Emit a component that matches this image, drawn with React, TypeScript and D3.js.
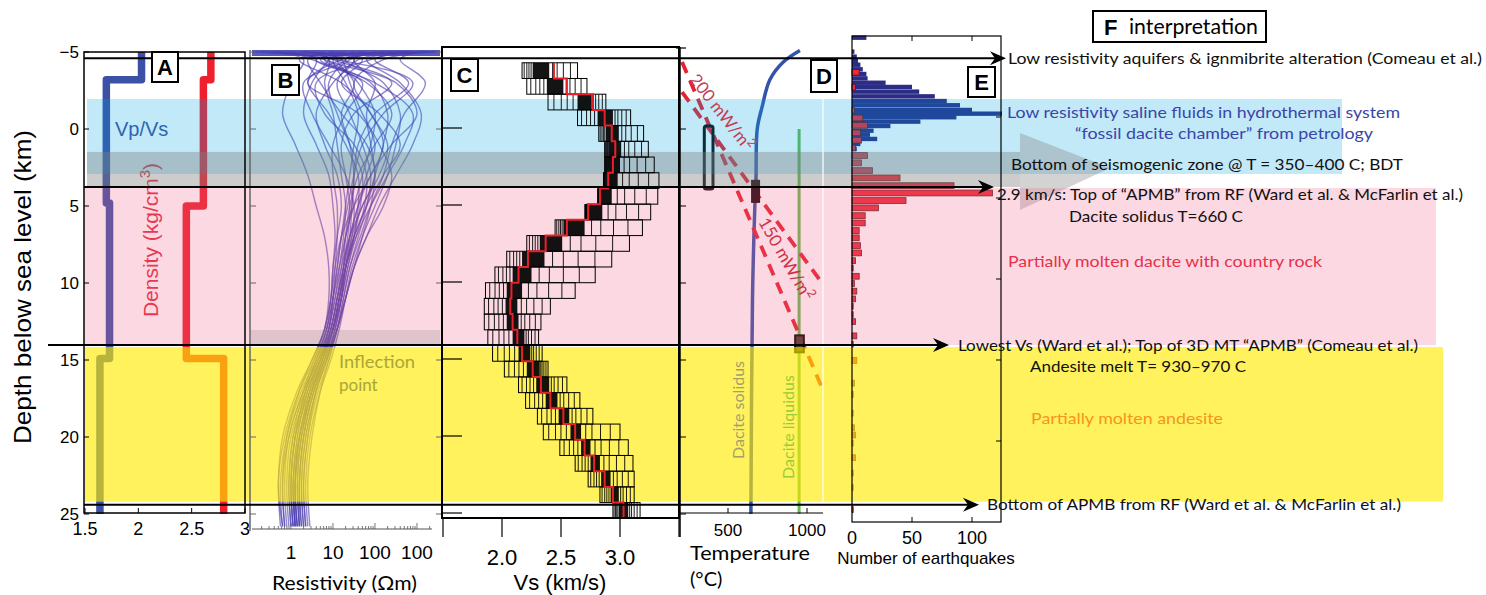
import React from "react";
import * as d3 from "d3";

// ---------------- shared depth axis (km below sea level) ----------------
const depthTicks = [-5, 0, 5, 10, 15, 20, 25];
const depthTickLabels = ["\u22125", "0", "5", "10", "15", "20", "25"];

// ---------------- Panel A: Vp/Vs and density step models ----------------
const vpvsLayerTops = [-5, -3.2, 4.8, 14.9];
const vpvsValues = [2.03, 1.7, 1.73, 1.64];
const densityLayerTops = [-5, -3.2, 5.0, 14.9];
const densityValues = [2.68, 2.61, 2.45, 2.8];
const modelBottom = 25;
const panelATicks = [1.5, 2, 2.5, 3];
const panelATickLabels = ["1.5", "2", "2.5", "3"];

// ---------------- Panel B: resistivity ensemble (log10 Ohm-m) ----------------
const resDepths = [-5, -4.5, -3, -1, 1, 3, 5, 7, 9, 11, 13, 15, 17, 20, 23, 25.8];
const resCurvesLog10 = [
  [1.2, 1.0, 1.3, 1.6, 1.5, 1.4, 1.3, 1.2, 1.1, 1.0, 0.85, 0.6, 0.35, 0.1, 0.0, 0.05],
  [3.4, 1.8, 2.6, 3.1, 2.9, 2.5, 2.1, 1.8, 1.5, 1.3, 1.1, 0.85, 0.6, 0.4, 0.3, 0.35],
  [-0.9, 0.3, 0.0, -0.2, 0.1, 0.4, 0.6, 0.8, 0.9, 0.9, 0.8, 0.5, 0.2, -0.1, -0.2, -0.15],
  [2.5, 0.8, 1.9, 2.3, 2.2, 2.0, 1.8, 1.5, 1.3, 1.15, 1.0, 0.8, 0.55, 0.3, 0.2, 0.25],
  [0.2, 1.5, 1.0, 0.6, 0.8, 1.1, 1.2, 1.1, 1.0, 0.95, 0.8, 0.55, 0.3, 0.05, -0.05, 0.0],
  [3.0, 2.6, 3.2, 2.7, 2.4, 2.2, 1.9, 1.65, 1.4, 1.25, 1.1, 0.9, 0.7, 0.5, 0.4, 0.45],
  [0.8, 0.4, 0.7, 1.2, 1.8, 2.0, 1.7, 1.4, 1.2, 1.05, 0.9, 0.7, 0.45, 0.2, 0.1, 0.15],
  [1.8, 1.1, 1.6, 2.0, 1.9, 1.7, 1.5, 1.3, 1.2, 1.1, 0.95, 0.75, 0.5, 0.25, 0.15, 0.2],
  [-0.5, 0.6, 0.4, 0.9, 1.3, 1.6, 1.6, 1.5, 1.35, 1.2, 1.0, 0.7, 0.4, 0.15, 0.05, 0.1],
  [2.2, 1.3, 2.2, 2.6, 2.5, 2.3, 2.0, 1.7, 1.45, 1.3, 1.15, 0.95, 0.7, 0.45, 0.35, 0.4],
  [1.0, 0.9, 0.5, 0.3, 0.6, 0.9, 1.0, 1.05, 1.0, 0.95, 0.85, 0.6, 0.35, 0.1, 0.0, 0.05],
  [3.5, 2.0, 2.8, 2.0, 1.6, 1.5, 1.45, 1.4, 1.3, 1.2, 1.05, 0.85, 0.6, 0.35, 0.25, 0.3],
  [0.5, 1.2, 1.4, 1.7, 2.1, 2.4, 2.2, 1.8, 1.5, 1.3, 1.1, 0.85, 0.55, 0.3, 0.2, 0.25],
  [2.8, 1.6, 1.1, 1.4, 1.7, 1.9, 1.8, 1.6, 1.4, 1.25, 1.1, 0.9, 0.65, 0.4, 0.3, 0.35],
  [-0.2, 0.9, 0.8, 1.0, 1.1, 1.2, 1.3, 1.25, 1.15, 1.05, 0.9, 0.65, 0.4, 0.15, 0.05, 0.1],
  [1.5, 0.7, 2.0, 2.9, 2.7, 2.3, 1.9, 1.55, 1.3, 1.15, 1.0, 0.8, 0.55, 0.3, 0.2, 0.2],
  [0.0, 0.5, 1.8, 2.4, 2.0, 1.6, 1.4, 1.3, 1.25, 1.15, 1.0, 0.75, 0.5, 0.25, 0.1, 0.15],
  [2.0, 1.4, 0.9, 1.1, 1.4, 1.7, 1.65, 1.5, 1.3, 1.2, 1.05, 0.8, 0.5, 0.2, 0.1, 0.15],
  [3.2, 2.2, 1.5, 1.9, 2.3, 2.1, 1.7, 1.45, 1.3, 1.2, 1.05, 0.85, 0.6, 0.35, 0.25, 0.3],
  [0.6, 1.0, 2.4, 1.5, 1.2, 1.3, 1.4, 1.35, 1.25, 1.1, 0.95, 0.7, 0.45, 0.2, 0.1, 0.1],
  [1.3, 0.2, 1.2, 1.9, 2.2, 1.9, 1.5, 1.2, 1.05, 0.95, 0.8, 0.5, 0.15, -0.2, -0.3, -0.25],
  [2.6, 1.9, 0.6, 0.8, 1.5, 1.8, 1.75, 1.55, 1.35, 1.2, 1.0, 0.7, 0.35, 0.0, -0.1, -0.05],
  [-0.7, 1.1, 2.9, 2.2, 1.7, 1.5, 1.35, 1.2, 1.1, 1.0, 0.9, 0.65, 0.3, -0.05, -0.15, -0.1],
  [0.9, 1.7, 1.2, 2.1, 2.6, 2.2, 1.8, 1.5, 1.3, 1.15, 1.0, 0.75, 0.45, 0.1, 0.0, 0.05],
  [3.3, 0.6, 1.7, 1.3, 1.0, 1.0, 1.1, 1.1, 1.05, 1.0, 0.9, 0.6, 0.25, -0.1, -0.25, -0.2],
  [1.7, 0.9, 2.5, 3.0, 2.4, 1.9, 1.6, 1.4, 1.25, 1.1, 0.95, 0.7, 0.4, 0.05, -0.05, 0.0],
  [0.3, 1.3, 0.3, 0.5, 0.9, 1.3, 1.5, 1.45, 1.3, 1.15, 1.0, 0.75, 0.5, 0.25, 0.15, 0.2],
  [2.9, 1.5, 2.0, 1.8, 1.9, 2.0, 1.9, 1.7, 1.5, 1.3, 1.1, 0.8, 0.5, 0.2, 0.05, 0.1],
  [-0.4, 0.8, 1.5, 1.2, 1.4, 1.5, 1.45, 1.3, 1.15, 1.0, 0.85, 0.55, 0.2, -0.15, -0.3, -0.2],
  [2.4, 1.2, 0.4, 1.6, 2.0, 1.8, 1.6, 1.4, 1.25, 1.1, 0.95, 0.65, 0.3, -0.05, -0.2, -0.15],
];
const resTicks = [1, 10, 100, 1000];
const resTickLabels = ["1", "10", "100", "100"];

// ---------------- Panel C: Vs ensemble, 1 km layers ----------------
const vsLayerBounds = [
  -4.3, -3.28, -2.26, -1.24, -0.22, 0.8, 1.82, 2.84, 3.86, 4.88, 5.9, 6.92, 7.94, 8.96, 9.98,
  11.0, 12.02, 13.04, 14.06, 15.08, 16.1, 17.12, 18.14, 19.16, 20.18, 21.2, 22.22, 23.24, 24.26, 25.28,
];
const vsMin = [2.17, 2.21, 2.39, 2.64, 2.82, 2.87, 2.87, 2.86, 2.82, 2.72, 2.45, 2.21, 2.04, 1.94, 1.86,
  1.85, 1.85, 1.88, 1.92, 2.02, 2.14, 2.2, 2.3, 2.35, 2.49, 2.62, 2.73, 2.83, 2.94];
const vsCoreLo = [2.26, 2.38, 2.64, 2.81, 2.88, 2.9, 2.89, 2.87, 2.81, 2.7, 2.52, 2.32, 2.17, 2.09, 2.04,
  2.03, 2.04, 2.09, 2.14, 2.21, 2.29, 2.37, 2.48, 2.58, 2.67, 2.75, 2.84, 2.92, 2.99];
const vsMedian = [2.44, 2.55, 2.77, 2.87, 2.93, 2.96, 2.94, 2.9, 2.83, 2.73, 2.55, 2.37, 2.22, 2.14, 2.08,
  2.07, 2.09, 2.13, 2.17, 2.26, 2.33, 2.41, 2.52, 2.62, 2.7, 2.78, 2.87, 2.94, 3.03];
const vsCoreHi = [2.4, 2.52, 2.76, 2.94, 2.99, 3.01, 3.0, 2.98, 2.93, 2.85, 2.7, 2.51, 2.36, 2.25, 2.17,
  2.13, 2.14, 2.19, 2.24, 2.32, 2.4, 2.47, 2.57, 2.67, 2.75, 2.83, 2.92, 2.99, 3.07];
const vsMax = [2.64, 2.72, 2.88, 3.09, 3.2, 3.24, 3.29, 3.33, 3.32, 3.26, 3.19, 3.08, 2.93, 2.79, 2.62,
  2.41, 2.33, 2.31, 2.34, 2.39, 2.55, 2.66, 2.77, 3.0, 3.07, 3.11, 3.12, 3.12, 3.17];
const vsTicks = [2.0, 2.5, 3.0];
const vsTickLabels = ["2.0", "2.5", "3.0"];

// ---------------- Panel D: temperature ----------------
const geothermDepth = [-5.1, -4.35, -3.2, -1.4, 0, 3.3, 5, 11, 25];
const geothermT = [955, 850, 765, 715, 685, 677, 670, 655, 645];
const liquidusT = [950, 950];
const liquidusDepth = [0, 25];
const hf200T = [209, 1095];
const hf200Depth = [-2.4, 10.0];
const hf150T = [209, 1095];
const hf150Depth = [-4.35, 16.8];
const bdtBoxT = [350, 405];
const bdtBoxDepth = [-0.2, 3.9];
const solidusBoxT = [646, 703];
const solidusBoxDepth = [3.3, 4.8];
const andesiteBoxT = [925, 980];
const andesiteBoxDepth = [13.4, 14.5];
const tempTicks = [500, 1000];
const tempTickLabels = ["500", "1000"];

// ---------------- Panel E: earthquake histograms ----------------
const blueBinTops = [-5.03, -4.17, -3.86, -3.59, -3.36, -3.08, -2.79, -2.52, -2.25, -1.99, -1.7, -1.41,
  -1.12, -0.86, -0.57, -0.34, -0.12, 0.15, 0.42, 0.71, 0.96, 1.22, 1.53, 1.84];
const blueCounts = [12, 2, 4, 5, 7, 9, 12, 13, 28, 50, 56, 69, 79, 90, 100, 125, 87, 57, 32, 18, 15, 21, 7, 4];
const blueBinKm = 0.27;
const redBinTops = [-2.94, -2.02, -0.6, -0.12, 0.33, 0.8, 1.25, 1.73, 2.2, 2.65, 3.13, 3.58, 4.06, 4.51,
  4.98, 5.43, 5.91, 6.36, 6.83, 7.28, 7.76, 8.21, 8.69, 9.14, 9.65, 10.1, 10.57, 11.05, 11.5, 12.02,
  12.45, 13.33, 13.85, 14.85, 16.25, 16.95, 18.1, 19.0, 19.45, 19.95, 20.85, 21.8, 22.7, 24.05];
const redCounts = [6, 3, 2, 9, 13, 7, 8, 3, 13, 8, 17, 40, 85, 117, 45, 22, 11, 11, 6, 6, 7, 8, 3, 1, 6, 2,
  4, 3, 1, 1, 3, 4, 1, 4, 2, 1, 1, 2, 3, 1, 3, 1, 1, 1];
const redBinKm = 0.36;
const eqTicks = [0, 50, 100];

// ---------------- Interpretation zones (depth km) ----------------
const blueBandDepth = [-1.95, 2.92];
const grayBandDepth = [1.49, 3.77];
const pinkBandDepth = [3.83, 14.03];
const yellowBandDepth = [14.16, 24.2];
const inflectionShadeDepth = [13.05, 14.03];
const markerLineDepths = [-4.6, 3.77, 14.03, 24.4];

const SANS = "'Liberation Sans', Arial, sans-serif";
const HUM = "Lato, 'Open Sans', sans-serif";

function stepPoints(tops: number[], vals: number[], bottom: number): [number, number][] {
  const pts: [number, number][] = [];
  tops.forEach((t, i) => {
    const b = i < tops.length - 1 ? tops[i + 1] : bottom;
    pts.push([vals[i], t]);
    pts.push([vals[i], b]);
  });
  return pts;
}

function Arrow({ x, y }: { x: number; y: number }) {
  return <polygon points={`${x},${y} ${x - 16},${y - 7} ${x - 11},${y} ${x - 16},${y + 7}`} fill="#000" />;
}

function LabelBox({ x, y, w, h, t }: { x: number; y: number; w: number; h: number; t: string }) {
  return (
    <g>
      <rect x={x} y={y} width={w} height={h} fill="#fff" stroke="#000" strokeWidth={2} />
      <text x={x + w / 2} y={y + h / 2 + 8} textAnchor="middle" fontFamily={SANS} fontWeight="bold" fontSize={22}>
        {t}
      </text>
    </g>
  );
}

function Ann({ x, y, len, t, c = "#111" }: { x: number; y: number; len: number; t: string; c?: string }) {
  return (
    <text x={x} y={y} fontFamily={HUM} fontSize={16} fill={c} textLength={len} lengthAdjust="spacingAndGlyphs">
      {t}
    </text>
  );
}

export default function App() {
  const yM = d3.scaleLinear().domain([-5, 25]).range([52, 514]);
  const xA = d3.scaleLinear().domain([1.5, 3]).range([85, 245]);
  const xB = d3.scaleLog().domain([0.12, 2600]).range([252.3, 434.4]);
  const xC = d3.scaleLinear().domain([2.0, 3.0]).range([502, 620]);
  const xD = d3.scaleLinear().domain([500, 1000]).range([728, 807]);
  const xE = d3.scaleLinear().domain([0, 100]).range([852, 972]);
  const yE = d3.scaleLinear().domain([-5, 25]).range([36, 522]);

  const lineA = d3.line<[number, number]>().x((d) => xA(d[0])).y((d) => yM(d[1]));
  const lineB = d3
    .line<[number, number]>()
    .x((d) => xB(Math.pow(10, d[0])))
    .y((d) => yM(d[1]))
    .curve(d3.curveCatmullRom.alpha(0.5));
  const lineC = d3.line<[number, number]>().x((d) => xC(d[0])).y((d) => yM(d[1]));
  const lineD = d3
    .line<[number, number]>()
    .x((d) => xD(d[0]))
    .y((d) => yM(d[1]))
    .curve(d3.curveCatmullRom.alpha(0.5));
  const lineDs = d3.line<[number, number]>().x((d) => xD(d[0])).y((d) => yM(d[1]));

  const vpvsPath = lineA(stepPoints(vpvsLayerTops, vpvsValues, modelBottom)) || "";
  const densPath = lineA(stepPoints(densityLayerTops, densityValues, modelBottom)) || "";

  const medianPts: [number, number][] = [];
  vsMedian.forEach((v, i) => {
    medianPts.push([v, vsLayerBounds[i]]);
    medianPts.push([v, vsLayerBounds[i + 1]]);
  });

  const bandRect = (d: number[], x0: number, x1: number, fill: string, op: number, key: string) => (
    <rect key={key} x={x0} y={yM(d[0])} width={x1 - x0} height={yM(d[1]) - yM(d[0])} fill={fill} fillOpacity={op} />
  );

  const bMinor = xB.ticks();

  return (
    <svg width={1486} height={595} style={{ position: "absolute", left: 0, top: 0, background: "#fff" }}>
      <rect x={0} y={0} width={1486} height={595} fill="#fff" />

      {/* ================= UNDER-LAYER DATA ================= */}
      {/* Panel A */}
      <path d={vpvsPath} fill="none" stroke="#3c50a5" strokeWidth={7.5} strokeLinejoin="round" />
      <path d={densPath} fill="none" stroke="#ed202d" strokeWidth={7.5} strokeLinejoin="round" />
      <text x={115} y={136} fontFamily={SANS} fontSize={20} fill="#3c50a5">Vp/Vs</text>
      <text
        transform={`translate(158,240) rotate(-90)`}
        textAnchor="middle"
        fontFamily={SANS}
        fontSize={21}
        fill="#e8283c"
      >
        Density (kg/cm<tspan dy={-8} fontSize={15}>3</tspan><tspan dy={8}>)</tspan>
      </text>

      {/* Panel B curves */}
      <rect x={252} y={50} width={188} height={6} fill="#3a3cb0" fillOpacity={0.85} />
      {resCurvesLog10.map((c, i) => (
        <path
          key={"res" + i}
          d={lineB(c.map((L, j) => [L, resDepths[j]] as [number, number])) || ""}
          fill="none"
          stroke="#4a3cae"
          strokeOpacity={0.62}
          strokeWidth={1.4}
        />
      ))}

      {/* Panel D lines */}
      <path
        d={lineD(geothermT.map((t, i) => [t, geothermDepth[i]] as [number, number])) || ""}
        fill="none"
        stroke="#3553aa"
        strokeWidth={3.5}
      />
      <path
        d={lineDs(liquidusT.map((t, i) => [t, liquidusDepth[i]] as [number, number])) || ""}
        fill="none"
        stroke="#64bb4c"
        strokeWidth={3}
      />
      <path
        d={lineDs(hf200T.map((t, i) => [t, hf200Depth[i]] as [number, number])) || ""}
        fill="none"
        stroke="#e8202e"
        strokeWidth={3.8}
        strokeDasharray="12 8"
      />
      <path
        d={lineDs(hf150T.map((t, i) => [t, hf150Depth[i]] as [number, number])) || ""}
        fill="none"
        stroke="#e8202e"
        strokeWidth={3.8}
        strokeDasharray="12 8"
      />
      <rect
        x={xD(bdtBoxT[0])}
        y={yM(bdtBoxDepth[0])}
        width={xD(bdtBoxT[1]) - xD(bdtBoxT[0])}
        height={yM(bdtBoxDepth[1]) - yM(bdtBoxDepth[0])}
        fill="none"
        stroke="#0a0a0a"
        strokeWidth={3}
        rx={2}
      />
      <rect
        x={xD(solidusBoxT[0])}
        y={yM(solidusBoxDepth[0])}
        width={xD(solidusBoxT[1]) - xD(solidusBoxT[0])}
        height={yM(solidusBoxDepth[1]) - yM(solidusBoxDepth[0])}
        fill="#1a0508"
      />
      <rect
        x={xD(andesiteBoxT[0])}
        y={yM(andesiteBoxDepth[0])}
        width={xD(andesiteBoxT[1]) - xD(andesiteBoxT[0])}
        height={yM(andesiteBoxDepth[1]) - yM(andesiteBoxDepth[0])}
        fill="#4a3a20"
        stroke="#000"
        strokeWidth={2}
      />

      {/* Panel E bars */}
      {blueBinTops.map((d, i) => (
        <rect
          key={"bb" + i}
          x={xE(0)}
          y={yE(d)}
          width={xE(blueCounts[i]) - xE(0)}
          height={yE(d + blueBinKm) - yE(d)}
          fill="#2a2c86"
        />
      ))}
      {redBinTops.map((d, i) => (
        <rect
          key={"rb" + i}
          x={xE(0)}
          y={yE(d)}
          width={xE(redCounts[i]) - xE(0)}
          height={yE(d + redBinKm) - yE(d)}
          fill="#ee2a3a"
          stroke="#5a1818"
          strokeWidth={0.8}
        />
      ))}

      {/* ================= INTERPRETATION BANDS ================= */}
      {bandRect(blueBandDepth, 87, 1342, "rgb(0,163,226)", 0.24, "blueband")}
      {bandRect(grayBandDepth, 87, 1020, "rgb(128,128,128)", 0.4, "grayband")}
      <polygon points="1020,133 1020,210 1110,168" fill="rgb(128,128,128)" fillOpacity={0.35} />
      {bandRect(pinkBandDepth, 85, 1436, "rgb(240,100,140)", 0.25, "pinkband")}
      {bandRect(yellowBandDepth, 85, 1443, "rgb(255,235,0)", 0.64, "yellowband")}
      {bandRect(inflectionShadeDepth, 251, 440, "rgb(128,128,128)", 0.22, "infl")}
      <line x1={823} x2={823} y1={yM(-4.6)} y2={513} stroke="#fff" strokeOpacity={0.8} strokeWidth={1.5} />

      {/* ================= PANEL C (on top) ================= */}
      {vsMin.map((mn, i) => {
        const y0 = yM(vsLayerBounds[i]);
        const y1 = yM(vsLayerBounds[i + 1]);
        const lo = vsCoreLo[i];
        const hi = vsCoreHi[i];
        const mx = vsMax[i];
        const frL = [0.2, 0.45, 0.65, 0.85];
        const frR = [0.12, 0.28, 0.5, 0.75];
        return (
          <g key={"vs" + i}>
            <rect x={xC(mn)} y={y0} width={xC(mx) - xC(mn)} height={y1 - y0} fill="none" stroke="#000" strokeWidth={1} />
            <rect x={xC(lo)} y={y0} width={xC(hi) - xC(lo)} height={y1 - y0} fill="#000" fillOpacity={0.92} />
            {frL.map((f, k) => (
              <line key={"a" + k} x1={xC(mn + (lo - mn) * f)} x2={xC(mn + (lo - mn) * f)} y1={y0} y2={y1} stroke="#000" strokeWidth={0.9} />
            ))}
            {frR.map((f, k) => (
              <line key={"b" + k} x1={xC(hi + (mx - hi) * f)} x2={xC(hi + (mx - hi) * f)} y1={y0} y2={y1} stroke="#000" strokeWidth={0.9} />
            ))}
          </g>
        );
      })}
      <path d={lineC(medianPts) || ""} fill="none" stroke="#e8202a" strokeWidth={2} />

      {/* ================= FRAMES & AXES ================= */}
      {/* Panel A */}
      <rect x={84} y={52} width={161} height={461} fill="none" stroke="#000" strokeWidth={1.5} />
      {depthTicks.map((d, i) => (
        <g key={"ya" + i}>
          <line x1={84} x2={89} y1={yM(d)} y2={yM(d)} stroke="#000" strokeWidth={1} />
          <text x={79} y={yM(d) + 6} textAnchor="end" fontFamily={SANS} fontSize={17}>
            {depthTickLabels[i]}
          </text>
        </g>
      ))}
      {panelATicks.map((v, i) => (
        <g key={"xa" + i}>
          <line x1={xA(v)} x2={xA(v)} y1={513} y2={508} stroke="#000" />
          <text x={xA(v)} y={535} textAnchor="middle" fontFamily={SANS} fontSize={18}>
            {panelATickLabels[i]}
          </text>
        </g>
      ))}
      <text transform="translate(31,287) rotate(-90)" textAnchor="middle" fontFamily={SANS} fontSize={24} textLength={314} lengthAdjust="spacingAndGlyphs">
        Depth below sea level (km)
      </text>

      {/* Panel B */}
      <line x1={250} x2={250} y1={50} y2={531} stroke="#666" strokeWidth={1.5} />
      <line x1={252} x2={432} y1={529} y2={529} stroke="#555" strokeWidth={1.2} />
      {bMinor
        .filter((t) => xB(t) <= 432)
        .map((t, i) => {
          const major = Math.abs(Math.log10(t) - Math.round(Math.log10(t))) < 1e-6;
          return <line key={"bm" + i} x1={xB(t)} x2={xB(t)} y1={529} y2={major ? 523 : 526} stroke="#555" strokeWidth={0.8} />;
        })}
      {resTicks.map((t, i) => (
        <text key={"bt" + i} x={xB(t)} y={559} textAnchor="middle" fontFamily={SANS} fontSize={19}>
          {resTickLabels[i]}
        </text>
      ))}
      {depthTicks.map((d, i) => (
        <g key={"yb" + i}>
          <line x1={250} x2={256} y1={yM(d)} y2={yM(d)} stroke="#666" />
          <line x1={436} x2={442} y1={yM(d)} y2={yM(d)} stroke="#666" />
        </g>
      ))}
      <text x={272} y={590} fontFamily={HUM} fontSize={19} textLength={145} lengthAdjust="spacingAndGlyphs">
        Resistivity (Ωm)
      </text>
      <text x={339} y={368} fontFamily={HUM} fontSize={17} fill="#a9a637" textLength={76} lengthAdjust="spacingAndGlyphs">
        Inflection
      </text>
      <text x={339} y={391} fontFamily={HUM} fontSize={17} fill="#a9a637">
        point
      </text>

      {/* Panel C */}
      <rect x={442} y={47} width={237} height={471} fill="none" stroke="#000" strokeWidth={2} />
      {depthTicks.slice(1).map((d, i) => (
        <line key={"yc" + i} x1={442} x2={462} y1={yM(d) - 1} y2={yM(d) - 1} stroke="#000" strokeWidth={1.2} />
      ))}
      {[1.5, ...vsTicks, 3.5].map((v, i) => (
        <line key={"xc" + i} x1={xC(v)} x2={xC(v)} y1={518} y2={537} stroke="#000" strokeWidth={1.2} />
      ))}
      {vsTicks.map((v, i) => (
        <text key={"xcl" + i} x={xC(v)} y={565} textAnchor="middle" fontFamily={SANS} fontSize={22}>
          {vsTickLabels[i]}
        </text>
      ))}
      <text x={560} y={590} textAnchor="middle" fontFamily={SANS} fontSize={22}>
        Vs (km/s)
      </text>

      {/* Panel D */}
      <line x1={680} x2={680} y1={47} y2={537} stroke="#000" strokeWidth={1.5} />
      <line x1={676} x2={686} y1={48} y2={48} stroke="#000" strokeWidth={1.2} />
      <line x1={680} x2={823} y1={513} y2={513} stroke="#000" strokeWidth={1.2} />
      {tempTicks.map((t, i) => (
        <g key={"xd" + i}>
          <line x1={xD(t)} x2={xD(t)} y1={513} y2={508} stroke="#000" />
          <text x={xD(t)} y={536} textAnchor="middle" fontFamily={SANS} fontSize={17}>
            {tempTickLabels[i]}
          </text>
        </g>
      ))}
      {depthTicks.slice(1).map((d, i) => (
        <line key={"yd" + i} x1={680} x2={686} y1={yM(d)} y2={yM(d)} stroke="#000" />
      ))}
      <text x={690} y={560} fontFamily={HUM} fontSize={20} textLength={120} lengthAdjust="spacingAndGlyphs">
        Temperature
      </text>
      <text x={690} y={586} fontFamily={HUM} fontSize={20}>
        (°C)
      </text>
      <text transform="translate(744,410) rotate(-90)" textAnchor="middle" fontFamily={HUM} fontSize={16} fill="#a3a06c">
        Dacite solidus
      </text>
      <text transform="translate(794,427) rotate(-90)" textAnchor="middle" fontFamily={HUM} fontSize={16} fill="#98ca3a">
        Dacite liquidus
      </text>
      <text transform="translate(717,116) rotate(52)" textAnchor="middle" fontFamily={HUM} fontSize={17} fill="#c43c56">
        200 mW/m<tspan dy={-7} fontSize={12}>2</tspan>
      </text>
      <text transform="translate(781,262) rotate(60)" textAnchor="middle" fontFamily={HUM} fontSize={17} fill="#cf3048">
        150 mW/m<tspan dy={-7} fontSize={12}>2</tspan>
      </text>

      {/* Panel E */}
      <rect x={852} y={36} width={149} height={486} fill="none" stroke="#000" strokeWidth={1.2} />
      {eqTicks.slice(1).map((t, i) => (
        <g key={"xe" + i}>
          <line x1={xE(t)} x2={xE(t)} y1={522} y2={517} stroke="#000" />
          <line x1={xE(t)} x2={xE(t)} y1={36} y2={41} stroke="#000" />
        </g>
      ))}
      {eqTicks.map((t, i) => (
        <text key={"xel" + i} x={xE(t)} y={544} textAnchor="middle" fontFamily={SANS} fontSize={18}>
          {t}
        </text>
      ))}
      {depthTicks.slice(1, 6).map((d, i) => (
        <line key={"ye" + i} x1={996} x2={1001} y1={yE(d)} y2={yE(d)} stroke="#000" />
      ))}
      <text x={926} y={564} textAnchor="middle" fontFamily={SANS} fontSize={17}>
        Number of earthquakes
      </text>

      {/* marker lines with arrows */}
      <line x1={84} x2={995} y1={yM(markerLineDepths[0])} y2={yM(markerLineDepths[0])} stroke="#000" strokeWidth={2} />
      <Arrow x={1006} y={yM(markerLineDepths[0])} />
      <line x1={84} x2={985} y1={yM(markerLineDepths[1])} y2={yM(markerLineDepths[1])} stroke="#000" strokeWidth={2} />
      <Arrow x={994} y={yM(markerLineDepths[1])} />
      <line x1={48} x2={940} y1={yM(markerLineDepths[2])} y2={yM(markerLineDepths[2])} stroke="#000" strokeWidth={2} />
      <Arrow x={949} y={yM(markerLineDepths[2])} />
      <line x1={84} x2={970} y1={yM(markerLineDepths[3])} y2={yM(markerLineDepths[3])} stroke="#000" strokeWidth={2} />
      <Arrow x={979} y={yM(markerLineDepths[3])} />

      {/* panel letters */}
      <LabelBox x={152} y={52} w={26} h={30} t="A" />
      <LabelBox x={272} y={65} w={27} h={30} t="B" />
      <LabelBox x={451} y={59} w={27} h={32} t="C" />
      <LabelBox x={811} y={60} w={26} h={32} t="D" />
      <LabelBox x={968} y={67} w={27} h={30} t="E" />

      {/* F interpretation */}
      <rect x={1093} y={11} width={173} height={31} fill="#fff" stroke="#000" strokeWidth={2} />
      <text x={1104} y={35} fontFamily={SANS} fontWeight="bold" fontSize={22}>F</text>
      <text x={1129} y={34} fontFamily={HUM} fontSize={22} textLength={129} lengthAdjust="spacingAndGlyphs">interpretation</text>

      <Ann x={1008} y={64} len={474} t="Low resistivity aquifers & ignmibrite alteration (Comeau et al.)" />
      <Ann x={1007} y={118} len={393} c="#3a45a8" t="Low resistivity saline fluids in hydrothermal system" />
      <Ann x={1075} y={139} len={298} c="#3a45a8" t="“fossil dacite chamber” from petrology" />
      <Ann x={1011} y={170} len={392} t="Bottom of seismogenic zone @ T = 350–400 C; BDT" />
      <Ann x={997} y={200} len={466} t="2.9 km/s: Top of “APMB” from RF (Ward et al. & McFarlin et al.)" />
      <Ann x={1069} y={222} len={174} t="Dacite solidus T=660 C" />
      <Ann x={1008} y={267} len={314} c="#e8304a" t="Partially molten dacite with country rock" />
      <Ann x={958} y={351} len={460} t="Lowest Vs (Ward et al.); Top of 3D MT “APMB” (Comeau et al.)" />
      <Ann x={1030} y={372} len={216} t="Andesite melt T= 930–970 C" />
      <Ann x={1031} y={424} len={192} c="#f7941d" t="Partially molten andesite" />
      <Ann x={987} y={510} len={414} t="Bottom of APMB from RF (Ward et al. & McFarlin et al.)" />
    </svg>
  );
}
